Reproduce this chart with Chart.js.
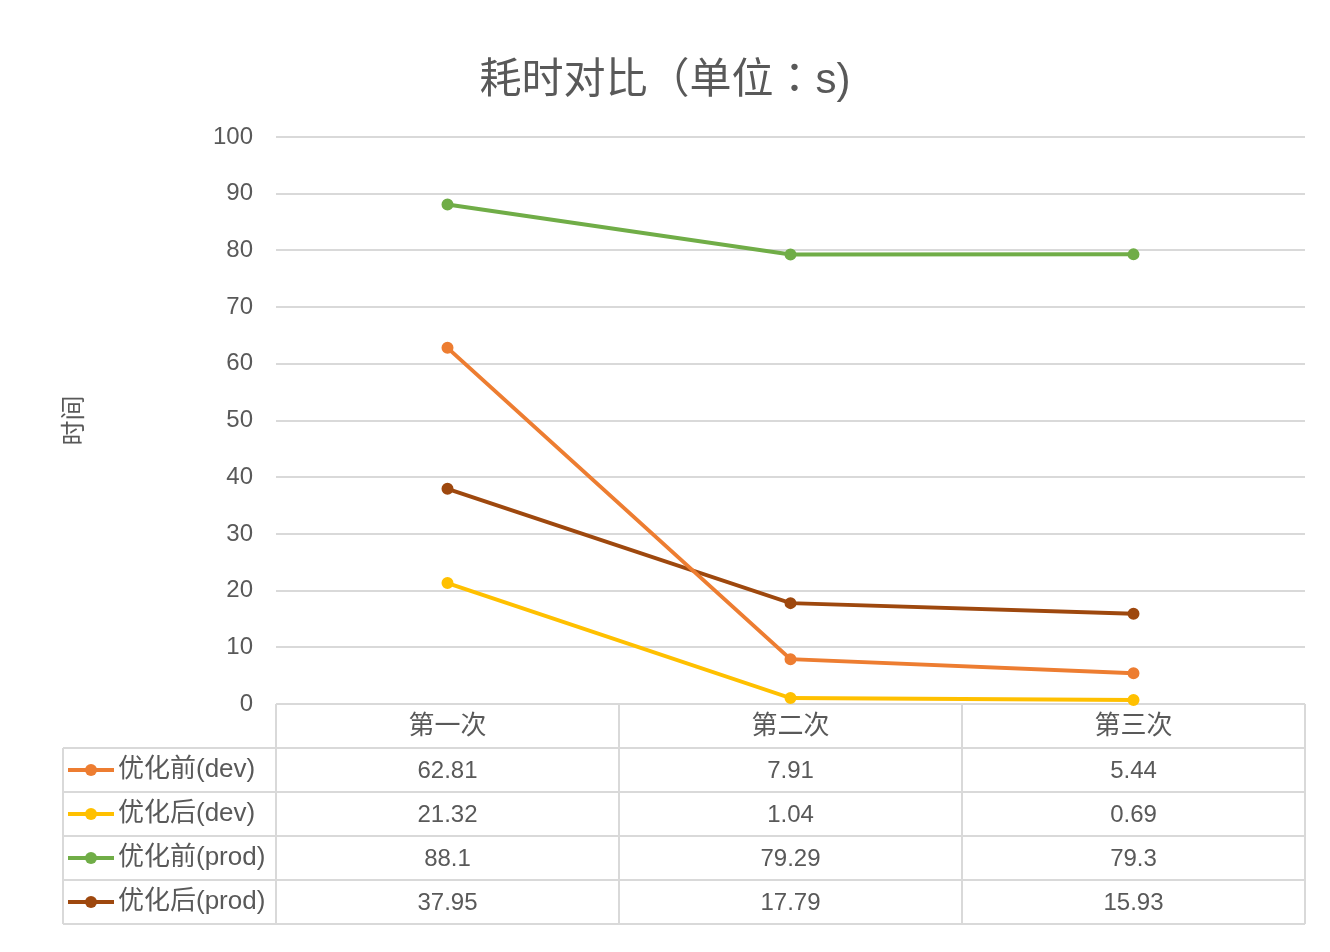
<!DOCTYPE html>
<html>
<head>
<meta charset="utf-8">
<script src="https://cdn.jsdelivr.net/npm/chart.js@4.4.1/dist/chart.umd.min.js"></script>
<style>
  html, body { margin: 0; padding: 0; background: #ffffff; }
  #wrap { width: 1330px; height: 952px; }
</style>
</head>
<body>
<div id="wrap"><canvas id="c" width="1330" height="952"></canvas></div>
<script>
const chartTitle = '耗时对比（单位：s)';
const yAxisTitle = '时间';
const categories = ['第一次', '第二次', '第三次'];
const seriesNames = ['优化前(dev)', '优化后(dev)', '优化前(prod)', '优化后(prod)'];
const devBefore = [62.81, 7.91, 5.44];
const devAfter = [21.32, 1.04, 0.69];
const prodBefore = [88.1, 79.29, 79.3];
const prodAfter = [37.95, 17.79, 15.93];
const seriesColors = ['#ED7D31', '#FFC000', '#70AD47', '#9E480E'];
const yMin = 0, yMax = 100, yStep = 10;

const FONT = '"Liberation Sans", "Noto Sans CJK SC", sans-serif';
const TITLE_FONT = '"Liberation Sans", "Noto Sans CJK TC", sans-serif';
const TEXT = '#595959';
const GRID = '#D9D9D9';

const seriesValues = [devBefore, devAfter, prodBefore, prodAfter];

const datasets = seriesNames.map((name, i) => ({
  label: name,
  data: seriesValues[i],
  yAxisID: 'y',
  borderColor: seriesColors[i],
  backgroundColor: seriesColors[i],
  pointBackgroundColor: seriesColors[i],
  pointBorderColor: seriesColors[i],
  borderWidth: 4,
  pointRadius: 5,
  pointBorderWidth: 2,
  tension: 0,
  clip: false
}));

const dataTablePlugin = {
  id: 'dataTable',
  beforeDatasetsDraw(chart) {
    const ctx = chart.ctx;
    const ca = chart.chartArea;
    const xs = chart.scales.x;
    const n = categories.length;
    const colW = (ca.right - ca.left) / n;
    const rowH = 44;
    const top = ca.bottom;
    const tableLeft = 63;
    const rows = seriesNames.length + 1;
    const bottom = top + rows * rowH;

    ctx.save();
    ctx.strokeStyle = GRID;
    ctx.lineWidth = 2;
    ctx.beginPath();
    ctx.moveTo(ca.left, top); ctx.lineTo(ca.right, top);
    for (let r = 1; r <= rows; r++) {
      ctx.moveTo(tableLeft, top + r * rowH);
      ctx.lineTo(ca.right, top + r * rowH);
    }
    ctx.moveTo(tableLeft, top + rowH); ctx.lineTo(tableLeft, bottom);
    for (let c = 0; c <= n; c++) {
      const xx = ca.left + c * colW;
      ctx.moveTo(xx, top); ctx.lineTo(xx, bottom);
    }
    ctx.stroke();

    ctx.fillStyle = TEXT;
    ctx.textBaseline = 'middle';
    ctx.textAlign = 'center';
    ctx.font = '26px ' + FONT;
    categories.forEach((cat, i) => {
      ctx.fillText(cat, xs.getPixelForValue(i), top + rowH / 2 + 1);
    });

    seriesNames.forEach((name, r) => {
      const cy = top + (r + 1) * rowH + rowH / 2;
      // legend key
      ctx.strokeStyle = seriesColors[r];
      ctx.lineWidth = 4;
      ctx.beginPath();
      ctx.moveTo(68, cy); ctx.lineTo(114, cy);
      ctx.stroke();
      ctx.fillStyle = seriesColors[r];
      ctx.beginPath();
      ctx.arc(91, cy, 6, 0, Math.PI * 2);
      ctx.fill();
      // label
      ctx.fillStyle = TEXT;
      ctx.textAlign = 'left';
      ctx.font = '26px ' + FONT;
      ctx.fillText(name, 118, cy);
      // values
      ctx.textAlign = 'center';
      ctx.font = '24px ' + FONT;
      seriesValues[r].forEach((v, i) => {
        ctx.fillText(String(v), xs.getPixelForValue(i), cy + 1);
      });
    });
    ctx.restore();
  }
};

new Chart(document.getElementById('c'), {
  type: 'line',
  data: { labels: categories, datasets },
  options: {
    responsive: false,
    animation: false,
    devicePixelRatio: 1,
    layout: { padding: { top: 0, left: 0, right: 0, bottom: 248 } },
    plugins: {
      legend: { display: false },
      tooltip: { enabled: false },
      title: {
        display: true,
        text: chartTitle,
        color: TEXT,
        font: { family: TITLE_FONT, size: 42, weight: 'normal' },
        padding: { top: 56, bottom: 30.6 }
      }
    },
    scales: {
      x: {
        type: 'category',
        display: false,
        offset: true
      },
      y: {
        position: 'left',
        min: yMin,
        max: yMax,
        ticks: {
          stepSize: yStep,
          color: TEXT,
          padding: 23,
          font: { family: FONT, size: 24 }
        },
        grid: { color: GRID, lineWidth: 2, drawTicks: false },
        border: { display: false },
        title: {
          display: true,
          text: yAxisTitle,
          color: TEXT,
          font: { family: FONT, size: 25 },
          padding: { top: 60, bottom: 0 }
        },
        afterFit(scale) { scale.width = 276; }
      },
      yRight: {
        position: 'right',
        min: yMin,
        max: yMax,
        ticks: { display: false },
        grid: { display: false, drawTicks: false },
        border: { display: false },
        afterFit(scale) { scale.width = 25; }
      }
    }
  },
  plugins: [dataTablePlugin]
});
</script>
</body>
</html>
